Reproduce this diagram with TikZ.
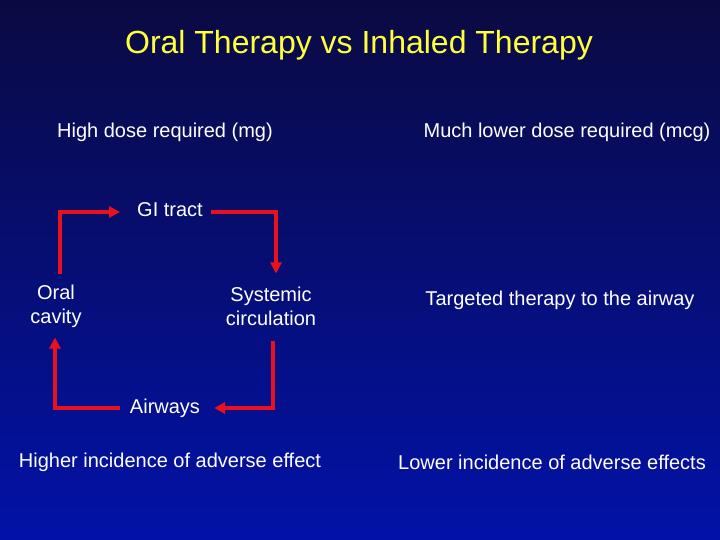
\documentclass[tikz,border=0pt]{standalone}
\usepackage{fontspec}
\setmainfont{Liberation Sans}
\usetikzlibrary{arrows.meta}
\definecolor{navytop}{RGB}{10,10,66}
\definecolor{navybot}{RGB}{2,18,168}
\definecolor{titleyel}{RGB}{255,255,60}
\definecolor{arrred}{RGB}{235,16,30}
\tikzset{
  txt/.style={text=white, inner sep=0pt, align=center, font=\fontsize{20}{24}\selectfont},
  flow/.style={draw=arrred, line width=3.6pt, -{Triangle[length=11pt,width=11pt]}}
}

\begin{document}
\begin{tikzpicture}[x=1pt,y=-1pt]
\shade[top color=navytop, bottom color=navybot] (0,0) rectangle (720,540);
\useasboundingbox (0,0) rectangle (720,540);
% title
\node[text=titleyel, inner sep=0pt, font=\fontsize{32}{38}\selectfont] (title) at (359,45) {Oral Therapy vs Inhaled Therapy};
% left column
\node[txt] (hidose) at (165,132) {High dose required (mg)};
\node[txt] (gi) at (170,210) {GI tract};
\node[txt] (oral) at (56,306) {Oral\\cavity};
\node[txt] (sys) at (271,306) {Systemic\\circulation};
\node[txt] (air) at (165,408) {Airways};
\node[txt] (hiadv) at (170,462) {Higher incidence of adverse effect};
% right column
\node[txt] (lodose) at (567,132) {Much lower dose required (mcg)};
\node[txt] (target) at (560,300) {Targeted therapy to the airway};
\node[txt] (loadv) at (552,462) {Lower incidence of adverse effects};
% cycle
\draw[flow] ([xshift=4pt,yshift=10pt]oral.north) |- ([xshift=-17pt,yshift=-2pt]gi.west);
\draw[flow] ([xshift=8pt,yshift=-2pt]gi.east) -| ([xshift=5pt,yshift=13pt]sys.north);
\draw[flow] ([xshift=2pt,yshift=-15pt]sys.south) |- ([xshift=14pt]air.east);
\draw[flow] ([xshift=-10pt]air.west) -| ([xshift=-1pt,yshift=-10pt]oral.south);
\end{tikzpicture}
\end{document}
